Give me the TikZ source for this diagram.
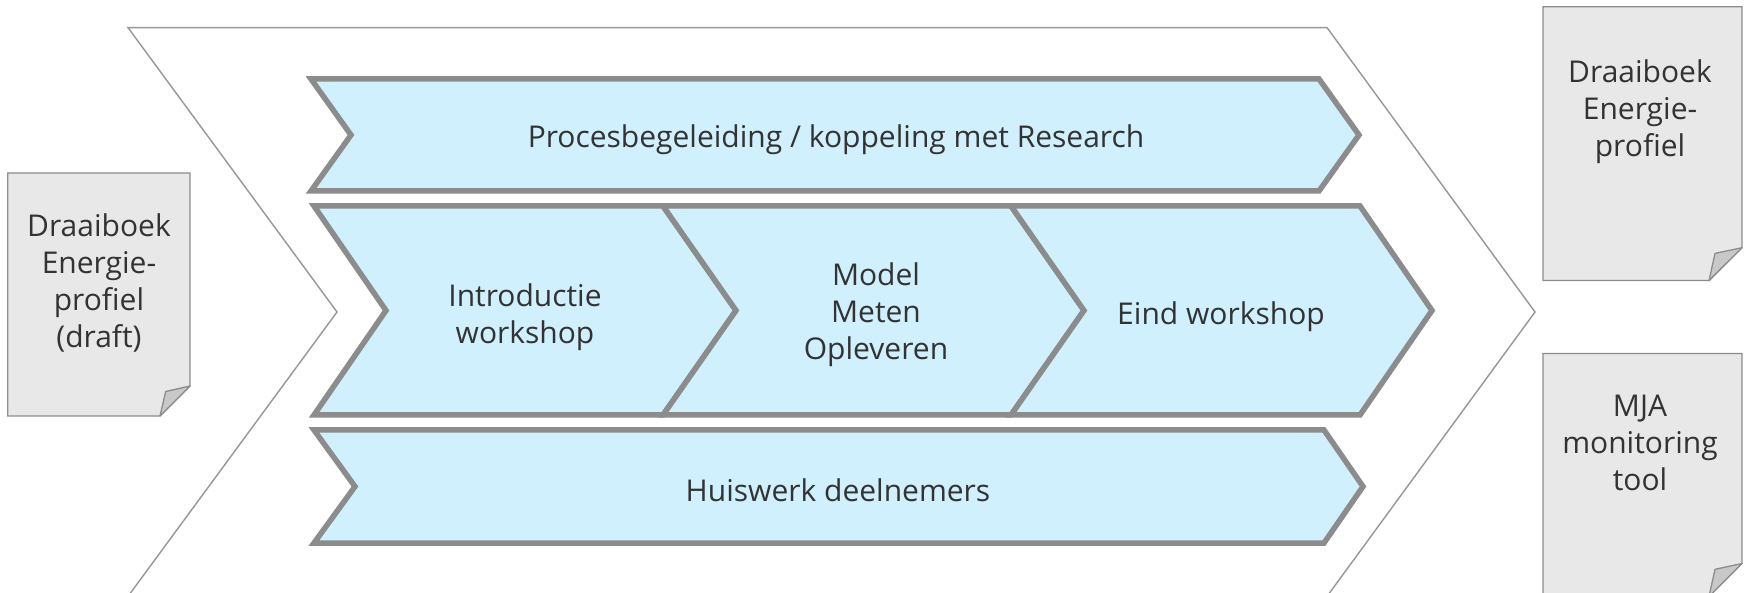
\documentclass[tikz,border=0pt]{standalone}
\usepackage{fontspec}
\setmainfont{Open Sans}
\definecolor{bluefill}{RGB}{207,240,252}
\definecolor{edgegray}{RGB}{140,140,140}
\definecolor{thingray}{RGB}{150,150,150}
\definecolor{docfill}{RGB}{232,232,232}
\definecolor{foldfill}{RGB}{200,200,200}
\definecolor{txt}{RGB}{51,51,51}
\begin{document}
\begin{tikzpicture}[x=1pt,y=-1pt,
  band/.style={fill=bluefill,draw=edgegray,line width=5.5pt,line join=miter},
  outer/.style={fill=white,draw=thingray,line width=1.4pt},
  doc/.style={fill=docfill,draw=edgegray,line width=1.3pt},
  fold/.style={fill=foldfill,draw=edgegray,line width=1.3pt,line join=round},
  lbl/.style={text=txt,font=\fontsize{30}{37}\selectfont,align=center,inner sep=0pt}]
\useasboundingbox (0,0) rectangle (1746,593);
% big outer chevron
\draw[outer] (128,27.6) -- (1327,27.6) -- (1535,312) -- (1327,596.4) -- (128,596.4) -- (337,312) -- cycle;
% top band
\draw[band] (311,79) -- (1319,79) -- (1359,135) -- (1319,191) -- (311,191) -- (351,135) -- cycle;
% middle segments
\draw[band] (314,206) -- (663,206) -- (736,310.5) -- (663,415) -- (314,415) -- (386,310.5) -- cycle;
\draw[band] (663,206) -- (1011,206) -- (1084,310.5) -- (1011,415) -- (663,415) -- (736,310.5) -- cycle;
\draw[band] (1011,206) -- (1360,206) -- (1432,310.5) -- (1360,415) -- (1011,415) -- (1084,310.5) -- cycle;
% bottom band
\draw[band] (314,430) -- (1324,430) -- (1363,486.5) -- (1324,543) -- (314,543) -- (355,486.5) -- cycle;
% documents
\draw[doc] (7.7,173) -- (190,173) -- (190,386) -- (160,416) -- (7.7,416) -- cycle;
\draw[fold] (160,416) -- (165.7,391.5) -- (190,386) -- cycle;
\draw[doc] (1543,6.8) -- (1742,6.8) -- (1742,247.7) -- (1709,280.6) -- (1543,280.6) -- cycle;
\draw[fold] (1709,280.6) -- (1715,253.4) -- (1742,247.7) -- cycle;
\draw[doc] (1543,353.6) -- (1742,353.6) -- (1742,563.5) -- (1709,596.5) -- (1543,596.5) -- cycle;
\draw[fold] (1709,596.5) -- (1715,569.3) -- (1742,563.5) -- cycle;
% labels
\node[lbl] (proc) at (836,140) {Procesbegeleiding / koppeling met Research};
\node[lbl] (intro) at (525,317) {Introductie\\workshop};
\node[lbl] (model) at (876,315) {Model\\Meten\\Opleveren};
\node[lbl] (eind) at (1221,317) {Eind workshop};
\node[lbl] (huis) at (838,490) {Huiswerk deelnemers};
\node[lbl] (draft) at (99,283) {Draaiboek\\Energie-\\profiel\\(draft)};
\node[lbl] (final) at (1640,112) {Draaiboek\\Energie-\\profiel};
\node[lbl] (mja) at (1640,443) {MJA\\monitoring\\tool};
\end{tikzpicture}
\end{document}
